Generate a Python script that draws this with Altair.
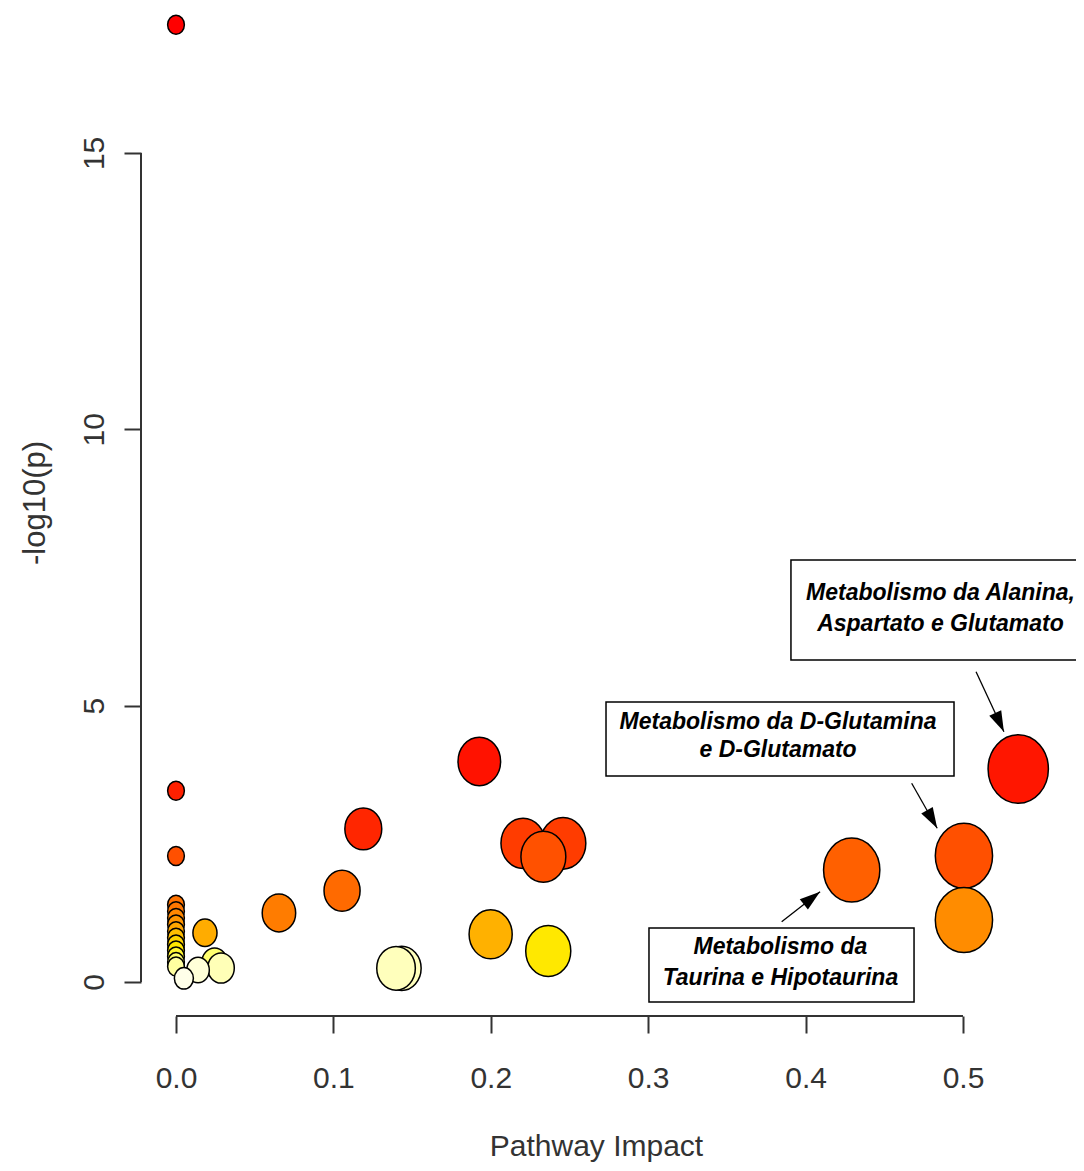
import math
import altair as alt
import pandas as pd

# ---- data ----
impact = [0.0, 0.0, 0.0, 0.0, 0.0, 0.0, 0.0, 0.0, 0.0, 0.0, 0.0, 0.0, 0.0, 0.0,
          0.0184, 0.005, 0.014, 0.0245, 0.0286, 0.0654, 0.1055, 0.119, 0.1927,
          0.2205, 0.2459, 0.2334, 0.1999, 0.2365, 0.1434, 0.1398, 0.4293, 0.5006,
          0.5006, 0.5351]
neglogp = [17.32, 3.46, 2.28, 1.40, 1.28, 1.16, 1.04, 0.92, 0.80, 0.68, 0.57, 0.46, 0.36, 0.28,
           0.89, 0.067, 0.217, 0.353, 0.253, 1.25, 1.65, 2.77, 3.99,
           2.51, 2.51, 2.267, 0.863, 0.561, 0.248, 0.248, 2.026, 2.285,
           1.122, 3.854]

x_ticks = [0.0, 0.1, 0.2, 0.3, 0.4, 0.5]
y_ticks = [0, 5, 10, 15]

# heat colour stops (by -log10 p)
heat_domain = [0.0, 0.22, 0.26, 0.30, 0.40, 0.56, 0.70, 0.87, 0.95, 1.12, 1.30, 1.65,
               2.03, 2.28, 2.51, 2.77, 3.5, 4.0, 17.3]
heat_range = ["#FFFFF0", "#FFFFD8", "#FFFFB0", "#FFFF90", "#FFFF50", "#FFE800", "#FFD000",
              "#FFB000", "#FFA000", "#FF8C00", "#FF7600", "#FF6A00", "#FF6000", "#FF5000",
              "#FF3C00", "#FF2600", "#FF2000", "#FF1200", "#FF0000"]

# bubble size stops (by impact)
size_domain = [0, 0.02, 0.065, 0.12, 0.2, 0.25, 0.43, 0.5, 0.54]
size_height = [19, 28, 38, 42, 49, 52, 64, 65, 69]

# annotations
box_x1 = [0.3907, 0.2732, 0.3005]
box_x2 = [0.5756, 0.4943, 0.4689]
box_y1 = [7.635, 5.066, 0.977]
box_y2 = [5.826, 3.727, -0.362]

label_lines = ["Metabolismo da Alanina,", "Aspartato e Glutamato",
               "Metabolismo da D-Glutamina", "e D-Glutamato",
               "Metabolismo da", "Taurina e Hipotaurina"]
label_x = [0.4857, 0.4857, 0.3825, 0.3825, 0.384, 0.384]
label_y = [7.038, 6.477, 4.71, 4.198, 0.639, 0.072]

arrow_x0 = [0.5083, 0.4674, 0.3848]
arrow_y0 = [5.614, 3.595, 1.091]
arrow_x1 = [0.5260, 0.4836, 0.4092]
arrow_y1 = [4.529, 2.781, 1.634]

# ---- layout ----
W, H = 935, 1008
xdom = [-0.02224, 0.5718]
ydom = [-0.615, 17.622]
kx = W / (xdom[1] - xdom[0])
ky = H / (ydom[1] - ydom[0])

F = "Liberation Sans"
AX = "#333333"

xscale = alt.Scale(domain=xdom, nice=False, zero=False)
yscale = alt.Scale(domain=ydom, nice=False, zero=False)

xaxis = alt.Axis(values=x_ticks, format=".1f", title="Pathway Impact", domain=False, grid=False,
                 tickSize=17, tickWidth=2, tickColor=AX, labelFont=F, labelFontSize=30,
                 labelColor=AX, labelPadding=45, labelBaseline="middle", labelFlush=False,
                 labelOverlap=False, titleFont=F, titleFontSize=30, titleFontWeight="normal",
                 titleColor=AX, titleX=455, titleY=139, titleAlign="center",
                 titleBaseline="alphabetic")
yaxis = alt.Axis(values=y_ticks, title="-log10(p)", domain=False, grid=False,
                 tickSize=17, tickWidth=2, tickColor=AX, labelFont=F, labelFontSize=30,
                 labelColor=AX, labelPadding=30, labelAngle=270, labelAlign="center",
                 labelBaseline="middle", labelFlush=False, labelOverlap=False,
                 titleFont=F, titleFontSize=31, titleFontWeight="normal", titleColor=AX,
                 titleAngle=270, titleX=-106, titleY=494.5, titleAlign="center",
                 titleBaseline="middle")

ELLIPSE = "M -0.88 0 A 0.88 1 0 1 0 0.88 0 A 0.88 1 0 1 0 -0.88 0 Z"
ARROW = "M 0 0 L -0.32 1 L 0.32 1 Z"

pts = pd.DataFrame({"impact": impact, "neglogp": neglogp})
pts = pts.sort_values("neglogp", ascending=False, kind="stable").reset_index(drop=True)

yline = pd.DataFrame({"lo": [y_ticks[0]], "hi": [y_ticks[-1]]})
xline = pd.DataFrame({"lo": [x_ticks[0]], "hi": [x_ticks[-1]]})

y_axis_line = alt.Chart(yline).mark_rule(color=AX, strokeWidth=2).encode(
    x=alt.value(0),
    y=alt.Y("lo:Q", scale=yscale, axis=yaxis),
    y2="hi:Q",
)
x_axis_line = alt.Chart(xline).mark_rule(color=AX, strokeWidth=2).encode(
    y=alt.value(H),
    x=alt.X("lo:Q", scale=xscale, axis=xaxis),
    x2="hi:Q",
)

bubbles = alt.Chart(pts).mark_point(
    shape=ELLIPSE, filled=True, stroke="black", strokeWidth=1.5, opacity=1, fillOpacity=1
).encode(
    x=alt.X("impact:Q", scale=xscale, axis=xaxis),
    y=alt.Y("neglogp:Q", scale=yscale, axis=yaxis),
    fill=alt.Fill("neglogp:Q", scale=alt.Scale(domain=heat_domain, range=heat_range,
                                               interpolate="rgb"), legend=None),
    size=alt.Size("impact:Q", scale=alt.Scale(domain=size_domain,
                                              range=[h * h for h in size_height]),
                  legend=None),
    order=alt.Order("neglogp:Q", sort="descending"),
)

arr = pd.DataFrame({"x0": arrow_x0, "y0": arrow_y0, "x1": arrow_x1, "y1": arrow_y1})
arr["ang"] = [
    math.degrees(math.atan2((b - a) * kx, (d - c) * ky)) % 360
    for a, b, c, d in zip(arr.x0, arr.x1, arr.y0, arr.y1)
]

arrow_lines = alt.Chart(arr).mark_rule(color="black", strokeWidth=1.3).encode(
    x=alt.X("x0:Q", scale=xscale, axis=xaxis), x2="x1:Q",
    y=alt.Y("y0:Q", scale=yscale, axis=yaxis), y2="y1:Q",
)
arrow_heads = alt.Chart(arr).mark_point(
    shape=ARROW, filled=True, fill="black", strokeWidth=0, size=1700, opacity=1
).encode(
    x=alt.X("x1:Q", scale=xscale, axis=xaxis),
    y=alt.Y("y1:Q", scale=yscale, axis=yaxis),
    angle=alt.Angle("ang:Q", scale=None),
)

boxes = alt.Chart(pd.DataFrame({"x1": box_x1, "x2": box_x2, "y1": box_y1, "y2": box_y2})).mark_rect(
    fill="white", stroke="black", strokeWidth=1.5
).encode(
    x=alt.X("x1:Q", scale=xscale, axis=xaxis), x2="x2:Q",
    y=alt.Y("y1:Q", scale=yscale, axis=yaxis), y2="y2:Q",
)

labels = alt.Chart(pd.DataFrame({"tx": label_x, "ty": label_y, "t": label_lines})).mark_text(
    font=F, fontSize=23, fontStyle="italic", fontWeight="bold", color="black",
    align="center", baseline="middle"
).encode(
    x=alt.X("tx:Q", scale=xscale, axis=xaxis),
    y=alt.Y("ty:Q", scale=yscale, axis=yaxis),
    text="t:N",
)

chart = alt.layer(
    y_axis_line, x_axis_line, bubbles, arrow_lines, arrow_heads, boxes, labels
).properties(
    width=W, height=H,
    autosize=alt.AutoSizeParams(type="none"),
    padding={"left": 133, "top": 0, "right": 0, "bottom": 147},
    background="white",
).configure_view(stroke=None)

chart.save("out.html", embed_options={"renderer": "svg", "actions": False})
